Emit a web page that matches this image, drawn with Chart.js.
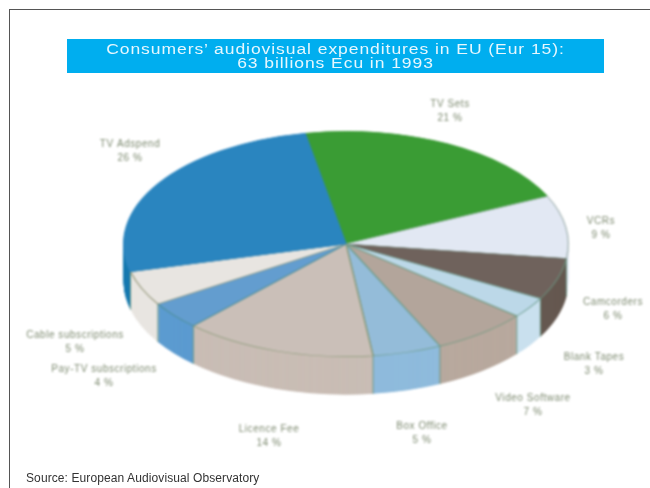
<!DOCTYPE html>
<html>
<head>
<meta charset="utf-8">
<script src="https://cdn.jsdelivr.net/npm/chart.js@4"></script>
<style>
  html, body { margin: 0; padding: 0; background: #fff; overflow: hidden; }
  #page { position: relative; width: 650px; height: 488px; overflow: hidden; }
  #frame { position: absolute; left: 9px; top: 9px; width: 660px; height: 500px; border: 1px solid #555; box-sizing: border-box; }
  #plot { position: absolute; left: 0; top: 0; filter: blur(0.8px); }
  #banner { position: absolute; left: 67px; top: 39px; width: 537px; height: 34px; background: #00aeef; color: #e6f7fe;
            font: 14px/14px "Liberation Sans", sans-serif; letter-spacing: 0.75px; text-align: center; padding-top: 3px; box-sizing: border-box; }
  #banner span { display: block; transform: scaleX(1.25); transform-origin: center; white-space: nowrap; }
  #source { position: absolute; left: 26px; top: 471px; font: 12px/14px "Liberation Sans", sans-serif; letter-spacing: 0.1px; color: #333; }
</style>
</head>
<body>
<div id="page">
  <div id="frame"></div>
  <canvas id="plot" width="650" height="488"></canvas>
  <div id="banner"><span>Consumers’ audiovisual expenditures in EU (Eur 15):</span><span>63 billions Ecu in 1993</span></div>
  <div id="source">Source: European Audiovisual Observatory</div>
</div>
<script>
// Spending categories, clockwise from TV Sets, with their shares in percent
const categories = ["TV Sets", "VCRs", "Camcorders", "Blank Tapes", "Video Software", "Box Office",
                    "Licence Fee", "Pay-TV subscriptions", "Cable subscriptions", "TV Adspend"];
const shares = [21, 9, 6, 3, 7, 5, 14, 4, 5, 26];
const sliceColors = ["#3a9c34", "#e2e8f3", "#6f625c", "#bcd8e8", "#b3a59b", "#94bcd9", "#cabfb8", "#639dcf", "#e8e5e1", "#2a85bf"];
const edgeColors  = ["#3a9c34", "#a9b8b8", "#6c8a78", "#6f9f90", "#6f9a80", "#6f9f90", "#8a9a78", "#4d8f9a", "#9a9c80", "#2a85bf"];
const wallColors  = ["#3a9c34", "#e2e8f3", "#655850", "#c9e0ee", "#b8a99e", "#8fbbdc", "#c9bdb5", "#5c9bd0", "#e8e5e1", "#167ab0"];

// Centre of each category caption
const captionAnchors = [[450, 111], [601, 228], [613, 309], [594, 364], [533, 405], [422, 433],
                        [269, 436], [104, 376], [75, 342], [130, 151]];

const TILT = 113 / 223;   // vertical squash of the disc
const DEPTH = 38;         // disc thickness in pixels

function tilted(ctx, cy, dy) {
  ctx.translate(0, cy + dy);
  ctx.scale(1, TILT);
  ctx.translate(0, -cy);
}

// Turns the flat pie into a thick tilted disc
const discPlugin = {
  id: "disc",
  beforeDatasetsDraw(chart) {
    const ctx = chart.ctx;
    const arcs = chart.getDatasetMeta(0).data;
    const cy = arcs[0].y;
    for (let d = DEPTH; d > 0; d -= 0.5) {
      ctx.save();
      tilted(ctx, cy, d);
      arcs.forEach((arc, i) => {
        const keep = arc.options;
        arc.options = { ...keep, borderWidth: 0, backgroundColor: wallColors[i] };
        arc.draw(ctx);
        arc.options = keep;
      });
      ctx.restore();
    }
    // Vertical seams where slices meet on the front of the wall
    ctx.save();
    ctx.strokeStyle = "#6f9a88";
    ctx.lineWidth = 1;
    arcs.forEach(arc => {
      const s = Math.sin(arc.endAngle);
      if (s > 0) {
        const x = arc.x + arc.outerRadius * Math.cos(arc.endAngle);
        const y = cy + TILT * arc.outerRadius * s;
        ctx.beginPath();
        ctx.moveTo(x, y);
        ctx.lineTo(x, y + DEPTH);
        ctx.stroke();
      }
    });
    ctx.restore();
    ctx.save();
    tilted(ctx, cy, 0);
  },
  afterDatasetsDraw(chart) {
    chart.ctx.restore();
  },
  afterDraw(chart) {
    const ctx = chart.ctx;
    ctx.save();
    ctx.font = '10px "Liberation Sans", sans-serif';
    ctx.letterSpacing = "0.55px";
    ctx.fillStyle = "#7d8a70";
    ctx.textAlign = "center";
    ctx.textBaseline = "middle";
    categories.forEach((name, i) => {
      const [x, y] = captionAnchors[i];
      ctx.fillText(name, x, y - 7);
      ctx.fillText(shares[i] + " %", x, y + 7);
    });
    ctx.restore();
  }
};

new Chart(document.getElementById("plot"), {
  type: "pie",
  data: {
    labels: categories,
    datasets: [{
      data: shares,
      backgroundColor: sliceColors,
      borderColor: edgeColors,
      borderWidth: 1.4
    }]
  },
  options: {
    responsive: false,
    animation: false,
    rotation: -10.6,
    layout: { padding: { left: 42, right: 0, top: 21, bottom: 21 } },
    plugins: { legend: { display: false }, tooltip: { enabled: false }, title: { display: false } }
  },
  plugins: [discPlugin]
});
</script>
</body>
</html>
